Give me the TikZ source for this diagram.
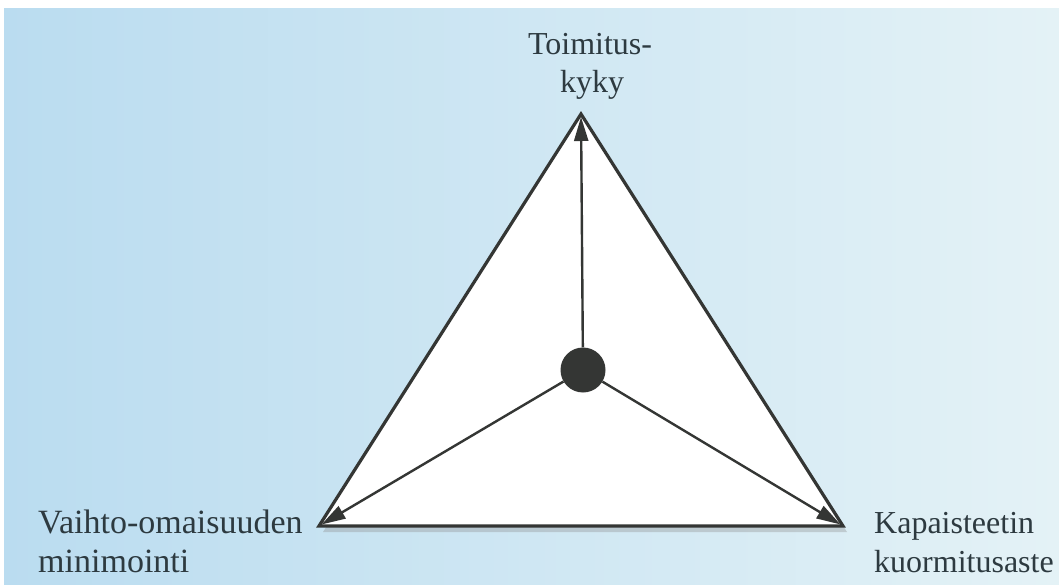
\documentclass[tikz,border=0pt]{standalone}
\usepackage{fontspec}
\setmainfont{Liberation Serif}
\usepackage{xcolor}
\usetikzlibrary{arrows.meta,positioning,calc}
\definecolor{paperblue}{RGB}{186,220,240}
\definecolor{paperpale}{RGB}{228,242,246}
\definecolor{inkgray}{RGB}{52,54,52}
\definecolor{labelink}{RGB}{45,58,64}
\tikzset{
  cornerlabel/.style={font=\fontsize{32}{39}\selectfont,text=labelink,inner sep=0pt},
  triedge/.style={draw=inkgray,line width=3.2pt,line join=miter,fill=white},
  hubdot/.style={circle,fill=inkgray,minimum size=45pt,inner sep=0pt},
  goalarrow/.style={-{Triangle[length=24pt,width=14pt]},draw=inkgray,fill=inkgray,line width=2.4pt,shorten >=3pt}
}

\begin{document}
\begin{tikzpicture}[x=1pt,y=-1pt]
  % background
  \useasboundingbox (0,0) rectangle (1059,585);
  \fill[white] (0,0) rectangle (1059,585);
  \shade[left color=paperblue,right color=paperpale] (4,9) rectangle (1059,585);
  % corners of the triangle
  \coordinate (top) at (581,114);
  \coordinate (left) at (319,526);
  \coordinate (right) at (843,526);
  \fill[black!45,opacity=0.35] ($(left)+(4,6)$) -- ($(top)+(4,6)$) -- ($(right)+(4,6)$) -- cycle;
  \draw[triedge] (left) -- (top) -- (right) -- cycle;
  \node[hubdot] (hub) at (583,370) {};
  \draw[goalarrow] (hub) -- (top);
  \draw[goalarrow] (hub) -- (left);
  \draw[goalarrow] (hub) -- (right);
  % labels
  \node[cornerlabel,anchor=base] (toplabel) at (590,55) {Toimitus-};
  \node[cornerlabel,anchor=base] (toplabel2) at (592,93) {kyky};
  \node[cornerlabel,font=\fontsize{34}{39}\selectfont,anchor=base west,align=left] (leftlabel) at (38,572) {Vaihto-omaisuuden\\minimointi};
  \node[cornerlabel,anchor=base west,align=left] (rightlabel) at (874,572) {Kapaisteetin\\kuormitusaste};
\end{tikzpicture}
\end{document}
